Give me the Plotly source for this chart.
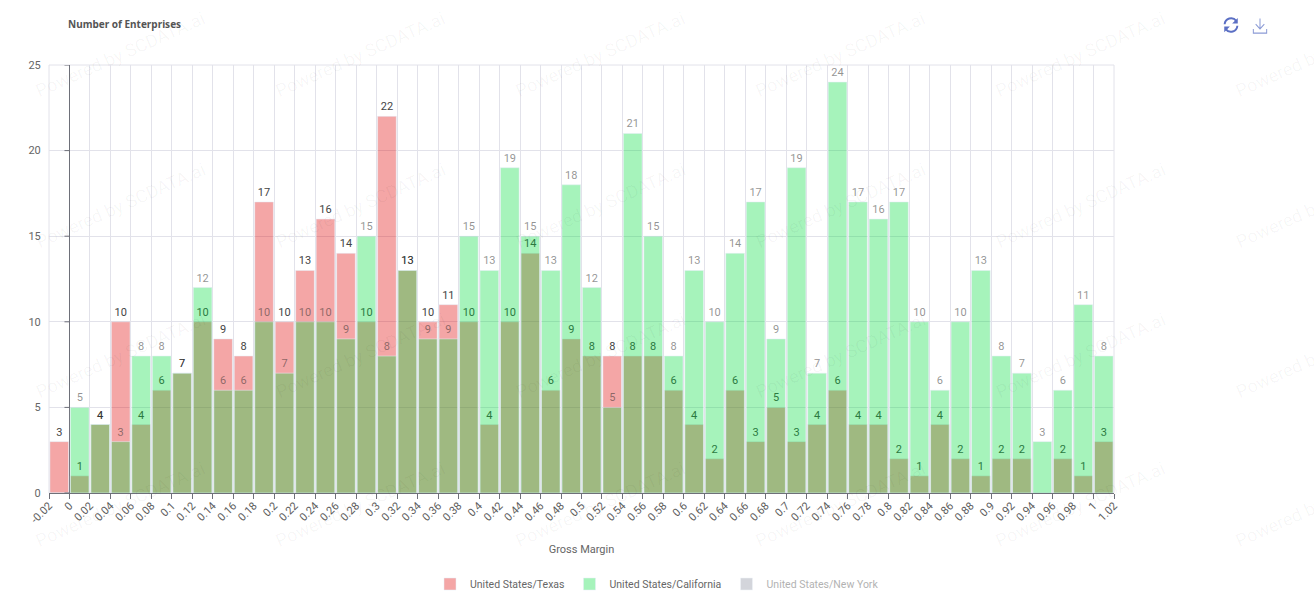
import urllib.parse
import plotly.graph_objects as go

# bin edges of Gross Margin, one bar per bin
bin_edges = [-0.02, 0, 0.02, 0.04, 0.06, 0.08, 0.1, 0.12, 0.14, 0.16, 0.18, 0.2, 0.22, 0.24, 0.26, 0.28, 0.3, 0.32,
             0.34, 0.36, 0.38, 0.4, 0.42, 0.44, 0.46, 0.48, 0.5, 0.52, 0.54, 0.56, 0.58, 0.6, 0.62, 0.64, 0.66, 0.68,
             0.7, 0.72, 0.74, 0.76, 0.78, 0.8, 0.82, 0.84, 0.86, 0.88, 0.9, 0.92, 0.94, 0.96, 0.98, 1, 1.02]
texas = [3, 1, 4, 10, 4, 6, 7, 10, 9, 8, 17, 10, 13, 16, 14, 10, 22, 13, 10, 11, 10, 4, 10, 14, 6, 9, 8, 8, 8, 8,
         6, 4, 2, 6, 3, 5, 3, 4, 6, 4, 4, 2, 1, 4, 2, 1, 2, 2, 0, 2, 1, 3]
california = [0, 5, 4, 3, 8, 8, 7, 12, 6, 6, 10, 7, 10, 10, 9, 15, 8, 13, 9, 9, 15, 13, 19, 15, 13, 18, 12, 5, 21, 15,
              8, 13, 10, 14, 17, 9, 19, 7, 24, 17, 16, 17, 10, 6, 10, 13, 8, 7, 3, 6, 11, 8]
y_ticks = [0, 5, 10, 15, 20, 25]

W, H = 1314, 605
L, R, T, B = 49, 1114, 65, 493
FONT = "Roboto"
GRID = "#e2e2ea"

centers = [(bin_edges[i] + bin_edges[i + 1]) / 2 for i in range(len(texas))]
tick_labels = [str(v) for v in bin_edges]


def labels(values):
    return [str(v) if v else "" for v in values]


def px_x(p):
    return (p - L) / (R - L)


def px_y(p):
    return (B - p) / (B - T)


def svg_uri(body):
    svg = '<svg xmlns="http://www.w3.org/2000/svg" viewBox="0 0 24 24">' + body + '</svg>'
    return "data:image/svg+xml," + urllib.parse.quote(svg)


refresh_icon = svg_uri('<g fill="none" stroke="#5b6fc4" stroke-width="2.6">'
                       '<path d="M3.5 11A8.6 8.6 0 0 1 19 6.5"/><path d="M20.500 13A8.6 8.6 0 0 1 5 17.500"/></g>'
                       '<path fill="#5b6fc4" d="M21 2.500V10H13.500Z M3 21.500V14H10.500Z"/>')
download_icon = svg_uri('<g fill="none" stroke="#8c9bd6" stroke-width="1.5">'
                        '<path d="M12 2V16M5.500 9.500L12 16L18.500 9.500"/><path d="M2 16V21.500H22V16"/></g>')

fig = go.Figure()
fig.add_trace(go.Bar(x=centers, y=texas, name="United States/Texas", marker_color="rgba(224,0,0,0.35)",
                     text=labels(texas), textposition="outside", textangle=0, constraintext="none",
                     cliponaxis=False, textfont=dict(size=11, color="#444444"), hoverinfo="x+y"))
fig.add_trace(go.Bar(x=centers, y=california, name="United States/California", marker_color="rgba(0,221,61,0.35)",
                     text=labels(california), textposition="outside", textangle=0, constraintext="none",
                     cliponaxis=False, textfont=dict(size=11, color="rgba(40,40,40,0.5)"), hoverinfo="x+y"))
# New York is switched off in the legend, so no bars of it show
fig.add_trace(go.Bar(x=[centers[0]], y=[0], name="United States/New York", marker_color="#a8acb8",
                     visible="legendonly"))

fig.update_layout(
    width=W, height=H,
    margin=dict(l=L, r=W - R, t=T, b=H - B, pad=0, autoexpand=False),
    barmode="overlay", bargap=0.09,
    paper_bgcolor="white", plot_bgcolor="white",
    font=dict(family=FONT, size=11, color="#666666"),
    legend=dict(orientation="h", x=px_x(657), y=px_y(584), xanchor="center", yanchor="middle",
                font=dict(size=10.5, color="#666666"), itemwidth=30, traceorder="normal"),
    title=dict(text="<b>Number of Enterprises</b>", x=68 / W, y=1 - 24 / H, xanchor="left", yanchor="middle",
               font=dict(family="Noto Sans", size=10, color="#555555")),
)
fig.update_xaxes(range=[bin_edges[0], bin_edges[-1]], tickmode="array", tickvals=bin_edges, ticktext=tick_labels,
                 tickangle=-45, ticks="outside", ticklen=5, tickcolor="#6e7079", ticklabelstandoff=-4,
                 tickfont=dict(size=11, color="#5c5c5c"),
                 showline=True, linecolor="#6e7079", linewidth=1, automargin=False,
                 showgrid=True, gridcolor=GRID, gridwidth=1,
                 zeroline=True, zerolinecolor="#6e7079", zerolinewidth=1,
                 title=dict(text="Gross Margin", standoff=20, font=dict(size=11, color="#666666")))
fig.update_yaxes(range=[y_ticks[0], y_ticks[-1]], tickmode="array", tickvals=y_ticks, automargin=False,
                 ticks="outside", ticklen=5, tickcolor="rgba(0,0,0,0)", tickfont=dict(size=11, color="#666666"),
                 showgrid=True, gridcolor=GRID, gridwidth=1, zeroline=False, showline=False)

# plotly leaves out the gridlines on the plot edges
fig.add_shape(type="rect", xref="paper", yref="paper", x0=0, x1=1, y0=0, y1=1, layer="below",
              line=dict(color=GRID, width=1))

# y ticks sit on the axis line at x = 0
for v in y_ticks:
    fig.add_shape(type="line", xref="x", yref="y", xsizemode="pixel", xanchor=0, x0=-5, x1=0, y0=v, y1=v,
                  line=dict(color="#6e7079", width=1))

# watermark tiles
for row_y in [55, 205, 355, 505]:
    for col_x in [120, 360, 600, 840, 1080, 1320]:
        fig.add_annotation(text="Powered by SCDATA.ai", xref="paper", yref="paper", x=px_x(col_x), y=px_y(row_y),
                           xanchor="center", yanchor="middle", showarrow=False, textangle=-24,
                           font=dict(size=18, color="rgba(0,0,0,0.04)"))

fig.add_layout_image(source=refresh_icon, xref="paper", yref="paper", x=px_x(1222), y=px_y(16), sizex=18 / (R - L),
                     sizey=18 / (B - T), xanchor="left", yanchor="top", sizing="stretch", layer="above")
fig.add_layout_image(source=download_icon, xref="paper", yref="paper", x=px_x(1252), y=px_y(17), sizex=16 / (R - L),
                     sizey=18 / (B - T), xanchor="left", yanchor="top", sizing="stretch", layer="above")

fig.write_html("out.html", config=dict(displayModeBar=False),
               post_script="document.body.style.margin='0';document.body.style.overflow='hidden';")
